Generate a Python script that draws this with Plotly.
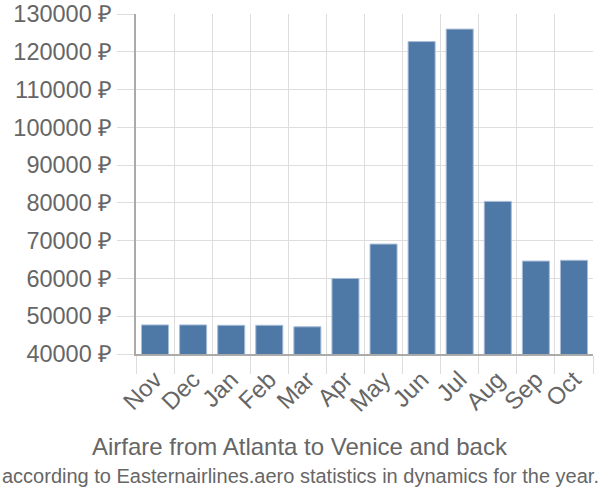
import plotly.graph_objects as go

# donnees
months = ["Nov", "Dec", "Jan", "Feb", "Mar", "Apr", "May", "Jun", "Jul", "Aug", "Sep", "Oct"]
prices = [47700, 47700, 47600, 47600, 47200, 60000, 69100, 122700, 126000, 80400, 64600, 64800]
yticks = list(range(40000, 130001, 10000))
ytext = [f"{v} ₽" for v in yticks]

title = "Airfare from Atlanta to Venice and back"
subtitle = "according to Easternairlines.aero statistics in dynamics for the year."

# zone de tracage (pixels)
left, right, top, bottom = 136, 593, 14, 354
pw, ph = right - left, bottom - top

fig = go.Figure()
fig.add_trace(go.Bar(x=months, y=prices,
                     marker=dict(color="#4e79a7", line=dict(color="#a9bdd6", width=1)),
                     width=0.71))

fig.update_layout(
    width=600, height=500,
    margin=dict(l=left, r=600 - right, t=top, b=500 - bottom, autoexpand=False),
    paper_bgcolor="white", plot_bgcolor="white",
    font=dict(family="Liberation Sans, Arial", color="#666666"),
    showlegend=False,
)
fig.update_xaxes(type="category", tickson="boundaries", automargin=False,
                 showgrid=True, gridcolor="#dddddd", gridwidth=1,
                 ticks="outside", ticklen=18, tickcolor="#dddddd",
                 showline=True, linecolor="#aaaaaa", linewidth=2,
                 tickangle=-45, tickfont=dict(size=24, color="#666666"))
fig.update_yaxes(range=[40000, 130000], tickvals=yticks, ticktext=ytext, automargin=False,
                 showgrid=True, gridcolor="#dddddd", gridwidth=1,
                 ticks="outside", ticklen=17, tickcolor="#dddddd",
                 showline=True, linecolor="#aaaaaa", linewidth=2,
                 zeroline=False, tickfont=dict(size=23.5, color="#666666"))

fig.add_annotation(text=title, xref="paper", yref="paper", x=(300 - left) / pw, y=-(446 - bottom) / ph,
                   xanchor="center", yanchor="middle", showarrow=False,
                   font=dict(size=24, color="#666666"))
fig.add_annotation(text=subtitle, xref="paper", yref="paper", x=(300 - left) / pw, y=-(476 - bottom) / ph,
                   xanchor="center", yanchor="middle", showarrow=False,
                   font=dict(size=20, color="#666666"))

# pas de marge autour de la page
fig.write_html("out.html", config={"displayModeBar": False},
               post_script="document.body.style.margin='0';")
